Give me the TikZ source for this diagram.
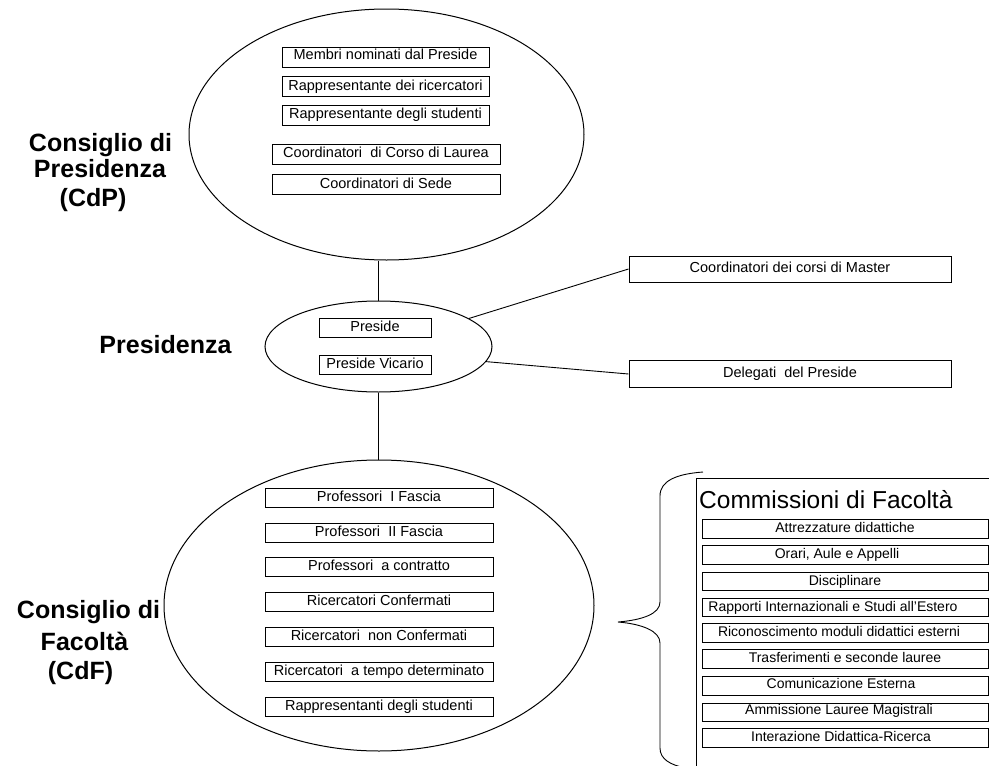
\documentclass[tikz,border=0pt]{standalone}
\usepackage{fontspec}
\setmainfont{Liberation Sans}
\usetikzlibrary{shapes.geometric}
\begin{document}
\begin{tikzpicture}[x=1pt,y=-1pt,
  oval/.style={ellipse, draw, line width=1pt, inner sep=0pt},
  cbox/.style={draw, line width=1pt, inner sep=0pt, font=\fontsize{14.5}{16}\selectfont, text height=10.5pt, text depth=3pt},
  kbox/.style={cbox, font=\fontsize{14}{16}\selectfont, minimum width=286pt, minimum height=18.5pt},
  raised/.style={text depth=6pt},
  biglabel/.style={font=\bfseries\fontsize{25}{28}\selectfont, anchor=base, inner sep=0pt},
  conn/.style={line width=0.9pt}]
\useasboundingbox (0,0) rectangle (989,766);
% --- Consiglio di Presidenza ---
\node[oval, minimum width=395pt, minimum height=251pt] (cdp) at (386.5,134.5) {};
\node[cbox, raised, minimum width=207pt, minimum height=20pt] (m1) at (385.5,57) {Membri nominati dal Preside};
\node[cbox, minimum width=207pt, minimum height=20pt] (m2) at (385.5,86.5) {Rappresentante dei ricercatori};
\node[cbox, minimum width=207pt, minimum height=20pt] (m3) at (385.5,115) {Rappresentante degli studenti};
\node[cbox, minimum width=228pt, minimum height=20pt] (m4) at (386,154) {Coordinatori\ \ di Corso di Laurea};
\node[cbox, minimum width=228pt, minimum height=20pt] (m5) at (386,184.5) {Coordinatori di Sede};
\node[biglabel] (lcdp1) at (100.5,151) {Consiglio di};
\node[biglabel] (lcdp2) at (100,177) {Presidenza};
\node[biglabel] (lcdp3) at (93,206) {(CdP)};
% --- Presidenza ---
\node[oval, minimum width=227pt, minimum height=91pt] (pres) at (378.5,346.5) {};
\node[cbox, minimum width=112pt, minimum height=19pt] (p1) at (375,328) {Preside};
\node[cbox, minimum width=112pt, minimum height=19pt] (p2) at (375,365) {Preside Vicario};
\node[biglabel] (lpres) at (165.5,353) {Presidenza};
\node[cbox, minimum width=322pt, minimum height=26pt] (master) at (790,269) {Coordinatori dei corsi di Master};
\node[cbox, minimum width=322pt, minimum height=26.5pt] (deleg) at (790,374) {Delegati\ \ del Preside};
% --- Consiglio di Facolta ---
\node[oval, minimum width=430pt, minimum height=291pt] (cdf) at (379,605.5) {};
\node[cbox, minimum width=228pt, minimum height=19pt] (f1) at (379,498) {Professori\ \ I Fascia};
\node[cbox, minimum width=228pt, minimum height=19pt] (f2) at (379,532.5) {Professori\ \ II Fascia};
\node[cbox, minimum width=228pt, minimum height=19pt] (f3) at (379,567) {Professori\ \ a contratto};
\node[cbox, minimum width=228pt, minimum height=19pt] (f4) at (379,601.5) {Ricercatori Confermati};
\node[cbox, minimum width=228pt, minimum height=19pt] (f5) at (379,636.5) {Ricercatori\ \ non Confermati};
\node[cbox, minimum width=228pt, minimum height=19pt] (f6) at (379,671.5) {Ricercatori\ \ a tempo determinato};
\node[cbox, minimum width=228pt, minimum height=19pt] (f7) at (379,706.5) {Rappresentanti degli studenti};
\node[biglabel] (lcdf1) at (88.5,618) {Consiglio di};
\node[biglabel] (lcdf2) at (84.5,650) {Facoltà};
\node[biglabel] (lcdf3) at (80.5,679) {(CdF)};
% --- connectors ---
\draw[conn] (cdp.south -| pres.north) -- (pres.north);
\draw[conn] (pres.south) -- (pres.south |- cdf.north);
\draw[conn] (master.west) -- (pres);
\draw[conn] (deleg.west) -- (pres.-8);
% --- Commissioni ---
\draw[line width=0.9pt] (703,472) .. controls (676,474) and (660,481) .. (660,496) -- (660,602) .. controls (660,614) and (642,620) .. (618,622) .. controls (642,624) and (660,631) .. (660,643) -- (660,748) .. controls (660,759) and (670,765) .. (686,768);
\draw[line width=0.9pt] (989,478) -- (696,478) -- (696,766);
\node[anchor=base west, inner sep=0pt, font=\fontsize{24.5}{28}\selectfont] (ctitle) at (699,508) {Commissioni di Facoltà};
\node[kbox] (c1) at (845,529) {Attrezzature didattiche};
\node[kbox] (c2) at (845,555) {Orari, Aule e Appelli\hspace*{16pt}};
\node[kbox] (c3) at (845,581.5) {Disciplinare};
\node[kbox] (c4) at (845,607.5) {Rapporti Internazionali e Studi all’Estero\hspace*{24pt}};
\node[kbox] (c5) at (845,633) {Riconoscimento moduli didattici esterni\hspace*{12pt}};
\node[kbox] (c6) at (845,659) {Trasferimenti e seconde lauree};
\node[kbox, raised] (c7) at (845,686) {Comunicazione Esterna\hspace*{8pt}};
\node[kbox, raised] (c8) at (845,712.5) {Ammissione Lauree Magistrali\hspace*{12pt}};
\node[kbox] (c9) at (845,738) {Interazione Didattica-Ricerca\hspace*{8pt}};
\end{tikzpicture}
\end{document}
